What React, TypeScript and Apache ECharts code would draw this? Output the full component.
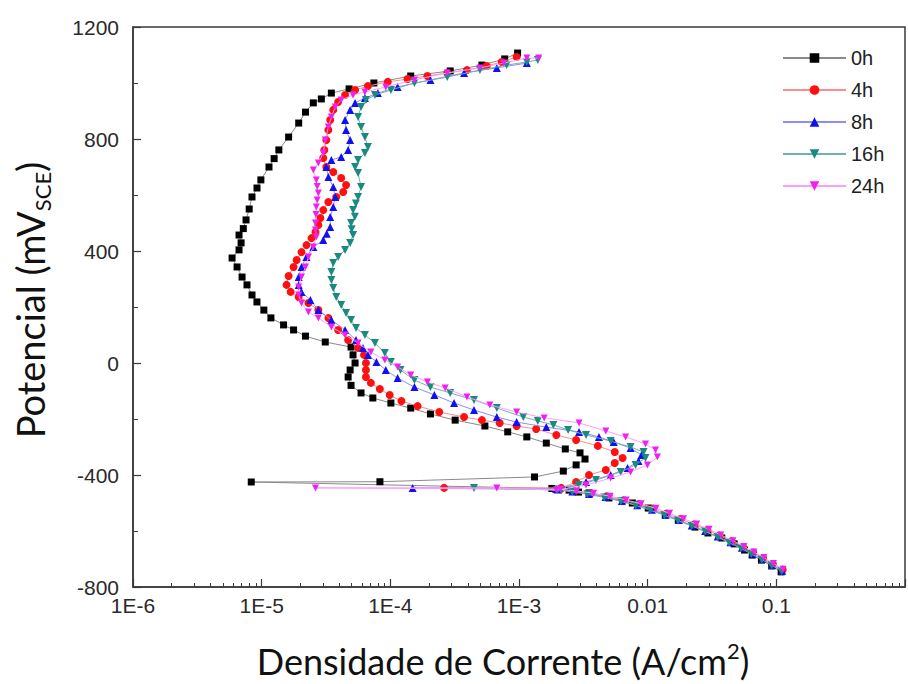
import React, { useEffect, useRef } from 'react';
import * as echarts from 'echarts';

// Polarization curves: [current density (A/cm2), potential (mV SCE)]
const seriesNames = ['0h', '4h', '8h', '16h', '24h'];

const h0: number[][] = [
  [0.109, -746], [0.092, -725], [0.0766, -704], [0.065, -686], [0.0566, -668], [0.047, -646], [0.0377, -625],
  [0.0294, -607], [0.0233, -586], [0.0173, -561], [0.0137, -543], [0.0101, -518], [0.0076, -500], [0.005, -482],
  [0.0035, -464], [0.0029, -461], [0.00245, -454], [0.0018, -448],
  [8.3e-6, -425], [8.3e-5, -424],
  [1.32e-3, -407], [2.21e-3, -386], [2.78e-3, -364], [3.26e-3, -343], [2.98e-3, -321], [2.29e-3, -307],
  [1.63e-3, -286], [1.15e-3, -264], [8.17e-4, -246], [5.43e-4, -225], [3.19e-4, -204], [2.05e-4, -182],
  [1.44e-4, -161], [1.01e-4, -143], [7.31e-5, -125], [5.92e-5, -107], [4.95e-5, -80], [4.7e-5, -50],
  [4.87e-5, -25], [5.32e-5, 0], [5.13e-5, 29], [4.95e-5, 57], [3.12e-5, 75], [2.19e-5, 96], [1.77e-5, 118],
  [1.48e-5, 136], [1.18e-5, 161], [1.04e-5, 189], [9.19e-6, 218], [8.41e-6, 243], [7.69e-6, 279],
  [7.04e-6, 307], [6.44e-6, 343], [5.89e-6, 375], [6.67e-6, 404], [6.92e-6, 429], [6.67e-6, 457],
  [7.2e-6, 480], [7.56e-6, 511], [8.0e-6, 550], [8.41e-6, 593], [9.2e-6, 625], [9.86e-6, 654],
  [1.14e-5, 700], [1.25e-5, 730], [1.36e-5, 761], [1.62e-5, 807], [1.94e-5, 857], [2.19e-5, 896],
  [2.52e-5, 929], [2.91e-5, 943], [3.48e-5, 964], [4.78e-5, 979], [7.45e-5, 1000], [1.44e-4, 1025],
  [2.92e-4, 1043], [5.15e-4, 1064], [7.74e-4, 1086], [9.75e-4, 1107],
];

const h4: number[][] = [
  [0.112, -738], [0.094, -718], [0.079, -697], [0.066, -677], [0.055, -657], [0.045, -637], [0.036, -616],
  [0.029, -596], [0.023, -577], [0.018, -557], [0.014, -538], [0.011, -520], [0.0085, -504], [0.0065, -490],
  [0.0048, -476], [0.0036, -466], [0.0027, -458], [0.0021, -451],
  [2.62e-4, -446],
  [2.13e-3, -446], [2.78e-3, -425], [3.5e-3, -400], [4.73e-3, -382], [5.55e-3, -357], [6.39e-3, -339],
  [5.55e-3, -318], [4.1e-3, -296], [2.78e-3, -275], [1.95e-3, -257], [1.36e-3, -236], [9.58e-4, -225],
  [7.08e-4, -214], [5.15e-4, -204], [3.74e-4, -193], [2.4e-4, -175], [1.63e-4, -154], [1.22e-4, -136],
  [9.89e-5, -114], [8.28e-5, -93], [7.06e-5, -71], [6.46e-5, -50], [6.46e-5, -25], [6.46e-5, 0],
  [6.24e-5, 29], [5.61e-5, 54], [4.7e-5, 82], [3.93e-5, 118], [3.3e-5, 161], [2.76e-5, 189], [2.31e-5, 214],
  [1.94e-5, 236], [1.68e-5, 254], [1.56e-5, 279], [1.62e-5, 311], [1.77e-5, 343], [1.87e-5, 368],
  [2.04e-5, 396], [2.23e-5, 421], [2.44e-5, 446], [2.62e-5, 468], [2.76e-5, 493], [2.86e-5, 518],
  [3.01e-5, 546], [3.3e-5, 575], [3.8e-5, 593], [4.3e-5, 611], [4.53e-5, 636], [4.15e-5, 661],
  [3.6e-5, 682], [3.18e-5, 700], [3.01e-5, 732], [3.07e-5, 761], [3.18e-5, 796], [3.3e-5, 832],
  [3.41e-5, 868], [3.6e-5, 904], [3.93e-5, 932], [4.45e-5, 957], [5.32e-5, 975], [6.7e-5, 989],
  [9.55e-5, 1004], [1.36e-4, 1014], [1.94e-4, 1025], [2.77e-4, 1036], [3.94e-4, 1046], [5.62e-4, 1061],
  [7.34e-4, 1075], [9.58e-4, 1093],
];

const h8: number[][] = [
  [0.111, -742], [0.093, -721], [0.078, -700], [0.065, -680], [0.054, -660], [0.044, -640], [0.035, -620],
  [0.028, -600], [0.022, -580], [0.0175, -561], [0.0138, -542], [0.0108, -524], [0.0083, -508], [0.0063, -493],
  [0.0047, -479], [0.0035, -468], [0.0026, -459], [0.002, -452],
  [1.49e-4, -446],
  [1.95e-3, -450], [3.32e-3, -425], [5.16e-3, -400], [6.98e-3, -375], [8.49e-3, -350], [8.96e-3, -329],
  [7.36e-3, -304], [5.45e-3, -282], [4.18e-3, -264], [2.93e-3, -246], [1.63e-3, -229], [9.58e-4, -211],
  [6.72e-4, -193], [4.47e-4, -168], [3.13e-4, -143], [2.2e-4, -114], [1.54e-4, -86], [1.14e-4, -54],
  [9.22e-5, -25], [7.8e-5, 4], [6.7e-5, 29], [6.13e-5, 54], [5.41e-5, 82], [4.45e-5, 118], [3.48e-5, 154],
  [2.76e-5, 189], [2.39e-5, 225], [2.04e-5, 254], [1.94e-5, 279], [1.94e-5, 307], [2.04e-5, 343],
  [2.23e-5, 379], [2.52e-5, 414], [3.01e-5, 439], [3.2e-5, 462], [3.41e-5, 486], [3.41e-5, 521],
  [3.6e-5, 557], [3.73e-5, 593], [3.6e-5, 629], [3.3e-5, 664], [3.18e-5, 700], [3.48e-5, 725],
  [4.15e-5, 736], [4.7e-5, 761], [4.87e-5, 796], [4.53e-5, 832], [4.45e-5, 868], [4.87e-5, 904],
  [5.32e-5, 929], [6.35e-5, 946], [8.0e-5, 964], [1.14e-4, 986], [2.05e-4, 1011], [3.74e-4, 1036],
  [6.72e-4, 1054], [1.15e-3, 1071],
];

const h16: number[][] = [
  [0.11, -743], [0.092, -722], [0.077, -702], [0.064, -682], [0.053, -662], [0.043, -642], [0.035, -622],
  [0.028, -602], [0.022, -582], [0.0172, -563], [0.0135, -544], [0.0105, -526], [0.0081, -509], [0.0062, -494],
  [0.0046, -480], [0.0034, -469], [0.0026, -460], [0.002, -453],
  [4.47e-4, -446],
  [2.13e-3, -454], [2.9e-3, -436], [3.96e-3, -418], [6.17e-3, -389], [8.05e-3, -364], [9.62e-3, -339],
  [9.29e-3, -318], [7.36e-3, -300], [5.16e-3, -279], [3.32e-3, -257], [2.41e-3, -239], [1.85e-3, -221],
  [1.4e-3, -207], [1.08e-3, -193], [6.72e-4, -161], [4.47e-4, -132], [2.92e-4, -107], [2.05e-4, -86],
  [1.54e-4, -61], [1.2e-4, -25], [1.01e-4, 4], [9.06e-5, 36], [7.59e-5, 71], [6.35e-5, 100], [5.41e-5, 125],
  [4.95e-5, 154], [4.53e-5, 179], [4.15e-5, 207], [3.8e-5, 236], [3.6e-5, 268], [3.48e-5, 296],
  [3.48e-5, 325], [3.6e-5, 357], [3.93e-5, 379], [4.45e-5, 404], [4.87e-5, 429], [5.13e-5, 457],
  [5.0e-5, 478], [4.95e-5, 500], [5.3e-5, 522], [5.13e-5, 546], [5.4e-5, 570], [5.61e-5, 593],
  [5.92e-5, 629], [5.61e-5, 679], [5.32e-5, 700], [5.61e-5, 725], [6.35e-5, 750], [6.7e-5, 771],
  [6.35e-5, 807], [5.92e-5, 843], [5.61e-5, 879], [5.92e-5, 914], [6.46e-5, 939], [7.59e-5, 957],
  [1.01e-4, 975], [1.54e-4, 1000], [2.77e-4, 1021], [4.97e-4, 1046], [8.02e-4, 1064], [1.15e-3, 1075],
  [1.4e-3, 1082],
];

const h24: number[][] = [
  [0.113, -737], [0.095, -716], [0.08, -695], [0.067, -675], [0.056, -655], [0.046, -635], [0.037, -614],
  [0.03, -594], [0.024, -575], [0.019, -556], [0.0148, -537], [0.0116, -519], [0.0089, -503], [0.0068, -489],
  [0.0051, -476], [0.0038, -465], [0.0028, -457], [0.0021, -451],
  [2.62e-5, -446], [6.72e-4, -446],
  [1.95e-3, -454], [3.32e-3, -436], [5.16e-3, -411], [7.36e-3, -389], [9.96e-3, -364], [1.19e-2, -336],
  [1.15e-2, -311], [9.62e-3, -289], [6.74e-3, -264], [4.73e-3, -243], [2.93e-3, -214], [1.57e-3, -196],
  [9.58e-4, -175], [5.93e-4, -150], [3.94e-4, -121], [2.67e-4, -89], [1.94e-4, -68], [1.44e-4, -43],
  [1.14e-4, -14], [9.06e-5, 11], [7.06e-5, 39], [5.61e-5, 71], [4.45e-5, 100], [3.48e-5, 129],
  [2.76e-5, 161], [2.31e-5, 182], [2.04e-5, 214], [1.94e-5, 243], [1.94e-5, 271], [2.04e-5, 307],
  [2.19e-5, 343], [2.31e-5, 379], [2.52e-5, 414], [2.66e-5, 450], [2.62e-5, 475], [2.62e-5, 500],
  [2.64e-5, 530], [2.66e-5, 557], [2.7e-5, 582], [2.76e-5, 607], [2.7e-5, 630], [2.66e-5, 654],
  [2.52e-5, 689], [2.76e-5, 714], [3.01e-5, 750], [3.12e-5, 796], [3.3e-5, 843], [3.48e-5, 879],
  [3.73e-5, 914], [4.15e-5, 939], [5.13e-5, 957], [6.35e-5, 968], [9.22e-5, 986], [1.54e-4, 1011],
  [2.77e-4, 1036], [4.97e-4, 1054], [7.6e-4, 1071], [1.15e-3, 1089], [1.42e-3, 1089],
];

const seriesData = [h0, h4, h8, h16, h24];
const markerColors = ['#000000', '#ff1010', '#1010f0', '#1a8a80', '#f020f0'];
const lineColors = ['#8a8a8a', '#ff8c8c', '#8c8cff', '#6fb3ad', '#ff9cff'];
const symbols = ['rect', 'circle', 'triangle', 'triangle', 'triangle'];
const symbolRotates = [0, 0, 0, 180, 180];
const symbolSizes = [7, 8, 8, 8, 7];

const xTickLabels: Record<string, string> = {
  '-6': '1E-6', '-5': '1E-5', '-4': '1E-4', '-3': '1E-3', '-2': '0.01', '-1': '0.1', '0': '',
};
const minorMultipliers = [2, 3, 4, 5, 6, 7, 8, 9];
const decades = [1e-6, 1e-5, 1e-4, 1e-3, 1e-2, 1e-1];
const minorTickValues: number[] = [];
decades.forEach((d) => minorMultipliers.forEach((m) => minorTickValues.push(m * d)));

const axisColor = '#3a3a3a';
const tickFont = 'Liberation Sans, Arial, sans-serif';
const titleFont = 'Lato, sans-serif';

function buildOption() {
  return {
    animation: false,
    backgroundColor: '#ffffff',
    grid: {
      left: 133, top: 27, right: -4, bottom: 97,
      show: true, borderColor: axisColor, borderWidth: 1.5, backgroundColor: 'transparent',
    },
    legend: {
      orient: 'vertical', left: 777, top: 43,
      itemWidth: 63, itemHeight: 12, itemGap: 12,
      textStyle: { fontSize: 20, color: '#222', fontFamily: tickFont },
      data: seriesNames,
    },
    xAxis: [
      {
        type: 'log', logBase: 10, min: 1e-6, max: 1, splitNumber: 6, position: 'bottom',
        axisLine: { show: true, onZero: false, lineStyle: { color: axisColor, width: 1.5 } },
        axisTick: { show: true, inside: true, length: 8, lineStyle: { color: axisColor, width: 1.2 } },
        splitLine: { show: false },
        axisLabel: {
          color: '#2a2a2a', fontSize: 21, fontFamily: tickFont, margin: 8,
          formatter: (v: number) => {
            const k = String(Math.round(Math.log10(v)));
            return xTickLabels[k] ?? '';
          },
        },
      },
      {
        type: 'log', logBase: 10, min: 1e-6, max: 1, position: 'bottom', gridIndex: 0,
        axisLine: { show: false, onZero: false },
        axisTick: { show: true, inside: true, length: 4, customValues: minorTickValues, lineStyle: { color: axisColor, width: 1 } },
        axisLabel: { show: false },
        splitLine: { show: false },
      },
    ],
    yAxis: {
      type: 'value', min: -800, max: 1200, interval: 400,
      axisLine: { show: true, onZero: false, lineStyle: { color: axisColor, width: 1.5 } },
      axisTick: { show: true, inside: true, length: 8, lineStyle: { color: axisColor, width: 1.2 } },
      minorTick: { show: true, splitNumber: 2, length: 5, lineStyle: { color: axisColor, width: 1 } },
      splitLine: { show: false },
      axisLabel: {
        color: '#2a2a2a', fontSize: 21, fontFamily: tickFont, margin: 14,
        formatter: (v: number) => String(v),
      },
    },
    graphic: [
      {
        type: 'text', x: 503, y: 661,
        style: {
          text: '{a|Densidade de Corrente (A/cm}{s|2}{a|)}',
          textAlign: 'center', textVerticalAlign: 'middle',
          rich: {
            a: { fontSize: 36, lineHeight: 44, fontFamily: titleFont, fill: '#111' },
            s: { fontSize: 22, lineHeight: 28, verticalAlign: 'top', fontFamily: titleFont, fill: '#111' },
          },
        },
      },
      {
        type: 'text', x: 30, y: 300, rotation: Math.PI / 2,
        style: {
          text: '{a|Potencial (mV}{s|SCE}{a|)}',
          textAlign: 'center', textVerticalAlign: 'middle',
          rich: {
            a: { fontSize: 38, lineHeight: 46, fontFamily: titleFont, fill: '#111' },
            s: { fontSize: 22, lineHeight: 26, verticalAlign: 'bottom', fontFamily: titleFont, fill: '#111' },
          },
        },
      },
    ],
    series: seriesNames.map((name, i) => ({
      name,
      type: 'line',
      xAxisIndex: 0,
      data: seriesData[i],
      symbol: symbols[i],
      symbolSize: symbolSizes[i],
      symbolRotate: symbolRotates[i],
      showAllSymbol: true,
      lineStyle: { color: lineColors[i], width: 1 },
      itemStyle: { color: markerColors[i] },
      z: 2 + i,
    })),
  };
}

export default function App() {
  const ref = useRef<HTMLDivElement>(null);
  useEffect(() => {
    if (!ref.current) return;
    const chart = echarts.init(ref.current, null, { renderer: 'svg' });
    chart.setOption(buildOption() as any);
    return () => chart.dispose();
  }, []);
  return (
    <div
      ref={ref}
      style={{ position: 'fixed', left: 0, top: 0, width: 908, height: 684, background: '#fff' }}
    />
  );
}
